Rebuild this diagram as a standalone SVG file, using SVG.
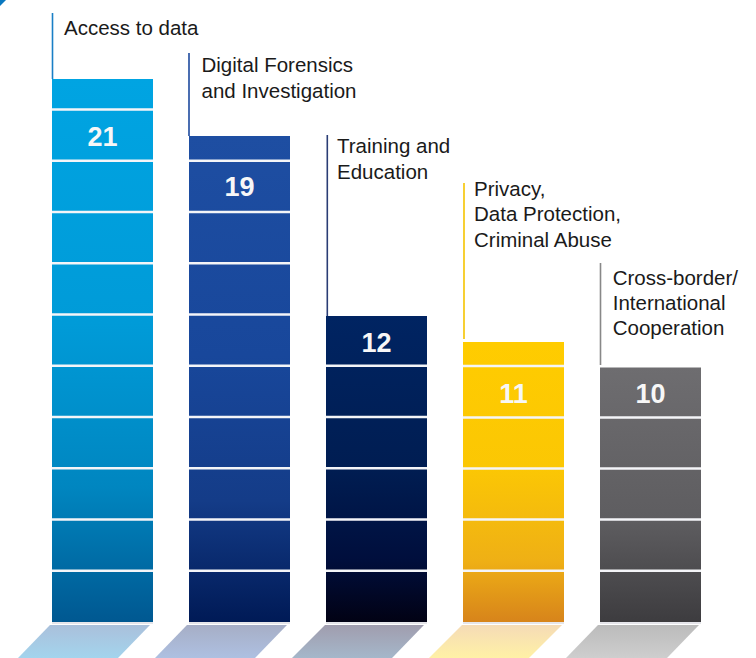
<svg xmlns="http://www.w3.org/2000/svg" width="756" height="658" viewBox="0 0 756 658">
<defs>
<linearGradient id="g1" gradientUnits="userSpaceOnUse" x1="0" y1="79" x2="0" y2="622">
<stop offset="0" stop-color="#00a4e2"/><stop offset="0.45" stop-color="#009bd8"/><stop offset="0.75" stop-color="#0086c0"/><stop offset="1" stop-color="#005891"/>
</linearGradient>
<linearGradient id="g2" gradientUnits="userSpaceOnUse" x1="0" y1="136" x2="0" y2="622">
<stop offset="0" stop-color="#1e4ea2"/><stop offset="0.45" stop-color="#18479b"/><stop offset="0.75" stop-color="#143c88"/><stop offset="1" stop-color="#001a56"/>
</linearGradient>
<linearGradient id="g3" gradientUnits="userSpaceOnUse" x1="0" y1="316" x2="0" y2="622">
<stop offset="0" stop-color="#002462"/><stop offset="0.5" stop-color="#001d52"/><stop offset="0.8" stop-color="#000e3c"/><stop offset="1" stop-color="#020214"/>
</linearGradient>
<linearGradient id="g4" gradientUnits="userSpaceOnUse" x1="0" y1="342" x2="0" y2="622">
<stop offset="0" stop-color="#ffcc00"/><stop offset="0.45" stop-color="#fbc704"/><stop offset="0.78" stop-color="#efb015"/><stop offset="1" stop-color="#d7841b"/>
</linearGradient>
<linearGradient id="g5" gradientUnits="userSpaceOnUse" x1="0" y1="367" x2="0" y2="622">
<stop offset="0" stop-color="#6e6d70"/><stop offset="0.6" stop-color="#5e5d60"/><stop offset="1" stop-color="#3d3c3f"/>
</linearGradient>
<linearGradient id="p1" x1="0" y1="0" x2="0" y2="1"><stop offset="0" stop-color="#aac0db"/><stop offset="1" stop-color="#a3d4ed"/></linearGradient>
<linearGradient id="p2" x1="0" y1="0" x2="0" y2="1"><stop offset="0" stop-color="#a6aec6"/><stop offset="1" stop-color="#aec0e1"/></linearGradient>
<linearGradient id="p3" x1="0" y1="0" x2="0" y2="1"><stop offset="0" stop-color="#a09dae"/><stop offset="1" stop-color="#a5b7ca"/></linearGradient>
<linearGradient id="p4" x1="0" y1="0" x2="0" y2="1"><stop offset="0" stop-color="#f5dbb6"/><stop offset="1" stop-color="#fff1a6"/></linearGradient>
<linearGradient id="p5" x1="0" y1="0" x2="0" y2="1"><stop offset="0" stop-color="#bbbbbb"/><stop offset="1" stop-color="#cecece"/></linearGradient>
</defs>
<style>
.lbl{font-family:"Liberation Sans",Arial,sans-serif;font-size:20.5px;fill:#1a1a1a}
.num{font-family:"Liberation Sans",Arial,sans-serif;font-size:27px;font-weight:bold;fill:#f7f7f7;text-anchor:middle}
.sep{stroke:#f4f5f8;stroke-width:2.5}
.base{stroke:#dcdde3;stroke-width:1.5}
.lead{stroke-width:1.6;fill:none}
</style>
<polygon points="0,0 6,0 0,6" fill="#0a78c0"/>
<g id="connectors">
<line class="lead" x1="52.5" y1="13" x2="52.5" y2="79" stroke="#1a7fc6"/>
<line class="lead" x1="189" y1="53" x2="189" y2="136" stroke="#1d4a9e"/>
<line class="lead" x1="327.3" y1="135" x2="327.3" y2="316" stroke="#2a3d75"/>
<line class="lead" x1="464" y1="183" x2="464" y2="339" stroke="#f5c400"/>
<line class="lead" x1="600.5" y1="263" x2="600.5" y2="365" stroke="#888888"/>
</g>
<g id="bar1">
<polygon points="50,625 150,625 118,658 18,658" fill="url(#p1)"/>
<rect x="52" y="79" width="101" height="543" fill="url(#g1)"/>
<g class="sep"><line x1="52" x2="153" y1="109.5" y2="109.5"/><line x1="52" x2="153" y1="160.75" y2="160.75"/><line x1="52" x2="153" y1="212" y2="212"/><line x1="52" x2="153" y1="263.25" y2="263.25"/><line x1="52" x2="153" y1="314.5" y2="314.5"/><line x1="52" x2="153" y1="365.75" y2="365.75"/><line x1="52" x2="153" y1="417" y2="417"/><line x1="52" x2="153" y1="468.25" y2="468.25"/><line x1="52" x2="153" y1="519.5" y2="519.5"/><line x1="52" x2="153" y1="570.75" y2="570.75"/></g>
<line class="base" x1="52" x2="153" y1="623" y2="623"/>
<text class="num" x="102.5" y="145.5">21</text>
<text class="lbl" x="64" y="35">Access to data</text>
</g>
<g id="bar2">
<polygon points="187,625 287,625 255,658 155,658" fill="url(#p2)"/>
<rect x="189" y="136" width="101" height="486" fill="url(#g2)"/>
<g class="sep"><line x1="189" x2="290" y1="160.75" y2="160.75"/><line x1="189" x2="290" y1="212" y2="212"/><line x1="189" x2="290" y1="263.25" y2="263.25"/><line x1="189" x2="290" y1="314.5" y2="314.5"/><line x1="189" x2="290" y1="365.75" y2="365.75"/><line x1="189" x2="290" y1="417" y2="417"/><line x1="189" x2="290" y1="468.25" y2="468.25"/><line x1="189" x2="290" y1="519.5" y2="519.5"/><line x1="189" x2="290" y1="570.75" y2="570.75"/></g>
<line class="base" x1="189" x2="290" y1="623" y2="623"/>
<text class="num" x="239.5" y="195.5">19</text>
<text class="lbl" x="201.5" y="72.3">Digital Forensics</text>
<text class="lbl" x="201.5" y="98.3">and Investigation</text>
</g>
<g id="bar3">
<polygon points="325,625 424,625 392,658 292,658" fill="url(#p3)"/>
<rect x="326" y="316" width="101" height="306" fill="url(#g3)"/>
<g class="sep"><line x1="326" x2="427" y1="365.75" y2="365.75"/><line x1="326" x2="427" y1="417" y2="417"/><line x1="326" x2="427" y1="468.25" y2="468.25"/><line x1="326" x2="427" y1="519.5" y2="519.5"/><line x1="326" x2="427" y1="570.75" y2="570.75"/></g>
<line class="base" x1="326" x2="427" y1="623" y2="623"/>
<text class="num" x="376.5" y="352">12</text>
<text class="lbl" x="337" y="153.3">Training and</text>
<text class="lbl" x="337" y="179.3">Education</text>
</g>
<g id="bar4">
<polygon points="462,625 562,625 529,658 429,658" fill="url(#p4)"/>
<rect x="463" y="342" width="101" height="280" fill="url(#g4)"/>
<g class="sep"><line x1="463" x2="564" y1="366" y2="366"/><line x1="463" x2="564" y1="417.5" y2="417.5"/><line x1="463" x2="564" y1="468.5" y2="468.5"/><line x1="463" x2="564" y1="519.5" y2="519.5"/><line x1="463" x2="564" y1="570.75" y2="570.75"/></g>
<line class="base" x1="463" x2="564" y1="623" y2="623"/>
<text class="num" x="513.5" y="403">11</text>
<text class="lbl" x="474" y="196">Privacy,</text>
<text class="lbl" x="474" y="221.3">Data Protection,</text>
<text class="lbl" x="474" y="246.6">Criminal Abuse</text>
</g>
<g id="bar5">
<polygon points="598,625 699,625 667,658 566,658" fill="url(#p5)"/>
<rect x="600" y="367.5" width="101" height="254.5" fill="url(#g5)"/>
<g class="sep"><line x1="600" x2="701" y1="417.5" y2="417.5"/><line x1="600" x2="701" y1="468.5" y2="468.5"/><line x1="600" x2="701" y1="519.5" y2="519.5"/><line x1="600" x2="701" y1="570.75" y2="570.75"/></g>
<line class="base" x1="600" x2="701" y1="623" y2="623"/>
<text class="num" x="650.5" y="403">10</text>
<text class="lbl" x="612.7" y="285">Cross-border/</text>
<text class="lbl" x="612.7" y="310">International</text>
<text class="lbl" x="612.7" y="335">Cooperation</text>
</g>
</svg>
